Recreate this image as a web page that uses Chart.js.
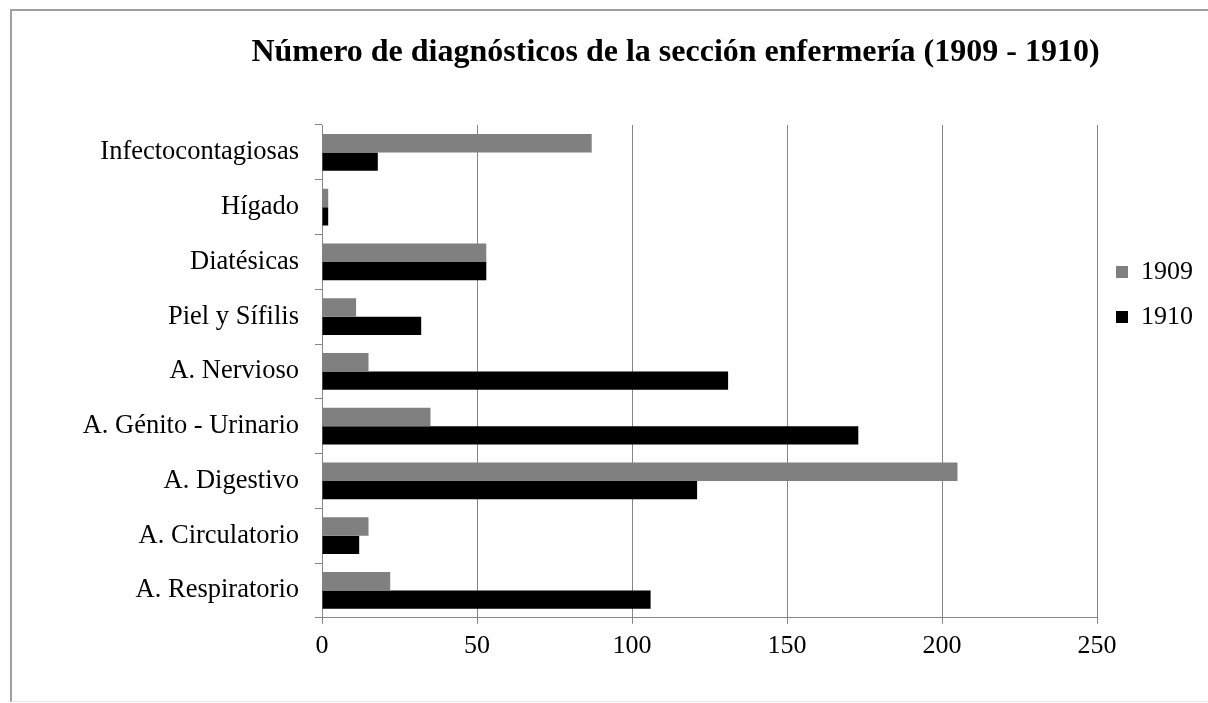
<!DOCTYPE html>
<html>
<head>
<meta charset="utf-8">
<script src="https://cdn.jsdelivr.net/npm/chart.js@4.4.1/dist/chart.umd.min.js"></script>
<style>
  html, body { margin: 0; padding: 0; background: #ffffff; }
  #wrap { position: relative; width: 1208px; height: 703px; overflow: hidden; }
  #frame { position: absolute; left: 10px; top: 9px; width: 1220px; height: 690px;
           border-left: 2px solid #a0a0a0; border-top: 2px solid #a0a0a0; border-bottom: 1px solid #e6e6e6; }
  #chart { position: absolute; left: 0; top: 0; }
</style>
</head>
<body>
<div id="wrap">
  <div id="frame"></div>
  <canvas id="chart" width="1208" height="703"></canvas>
</div>
<script>
// categories, top to bottom
const categories = [
  'Infectocontagiosas',
  'Hígado',
  'Diatésicas',
  'Piel y Sífilis',
  'A. Nervioso',
  'A. Génito - Urinario',
  'A. Digestivo',
  'A. Circulatorio',
  'A. Respiratorio'
];
const values1909 = [87, 2, 53, 11, 15, 35, 205, 15, 22];
const values1910 = [18, 2, 53, 32, 131, 173, 121, 12, 106];
const seriesNames = ['1909', '1910'];
const xTicks = [0, 50, 100, 150, 200, 250];

const serif = "'Liberation Serif', 'Times New Roman', serif";
const axisGray = '#868686';

// the y labels are wider than the squeezed axis box: widen its clip area
const labelRoom = {
  id: 'labelRoom',
  afterLayout(chart) { chart.scales.y.left = 0; }
};

const ctx = document.getElementById('chart').getContext('2d');
new Chart(ctx, {
  type: 'bar',
  data: {
    labels: categories,
    datasets: [
      { label: seriesNames[0], data: values1909, backgroundColor: '#808080', borderWidth: 0 },
      { label: seriesNames[1], data: values1910, backgroundColor: '#000000', borderWidth: 0 }
    ]
  },
  plugins: [labelRoom],
  options: {
    indexAxis: 'y',
    responsive: false,
    animation: false,
    devicePixelRatio: 1,
    categoryPercentage: 0.67,
    barPercentage: 1.0,
    layout: { padding: { left: 148, right: 5, top: 13, bottom: 34 } },
    plugins: {
      title: {
        display: true,
        text: 'Número de diagnósticos de la sección enfermería (1909 - 1910)',
        color: '#000000',
        font: { family: serif, size: 32, weight: 'bold', lineHeight: 1.2 },
        padding: { top: 21, bottom: 52.6 }
      },
      legend: {
        display: true,
        position: 'right',
        align: 'start',
        title: { display: true, text: ' ', font: { size: 12, lineHeight: 1.2 }, padding: { top: 212.6, bottom: 0 } },
        labels: {
          color: '#000000',
          font: { family: serif, size: 26 },
          boxWidth: 12,
          boxHeight: 12,
          padding: 19
        }
      },
      tooltip: { enabled: false }
    },
    scales: {
      x: {
        min: 0,
        max: 250,
        afterBuildTicks: (scale) => { scale.ticks = xTicks.map(v => ({ value: v })); },
        ticks: { color: '#000000', font: { family: serif, size: 26 }, padding: 7, maxRotation: 0 },
        grid: { color: axisGray, lineWidth: 1, drawTicks: true, tickLength: 6 },
        border: { display: true, color: axisGray, width: 1 }
      },
      y: {
        afterFit: (scale) => { scale.width = 174; },
        ticks: { color: '#000000', font: { family: serif, size: 26.5 }, padding: 16, autoSkip: false },
        grid: { offset: true, drawOnChartArea: false, drawTicks: true, tickLength: 7, color: axisGray },
        border: { display: true, color: axisGray, width: 1 }
      }
    }
  }
});
</script>
</body>
</html>
